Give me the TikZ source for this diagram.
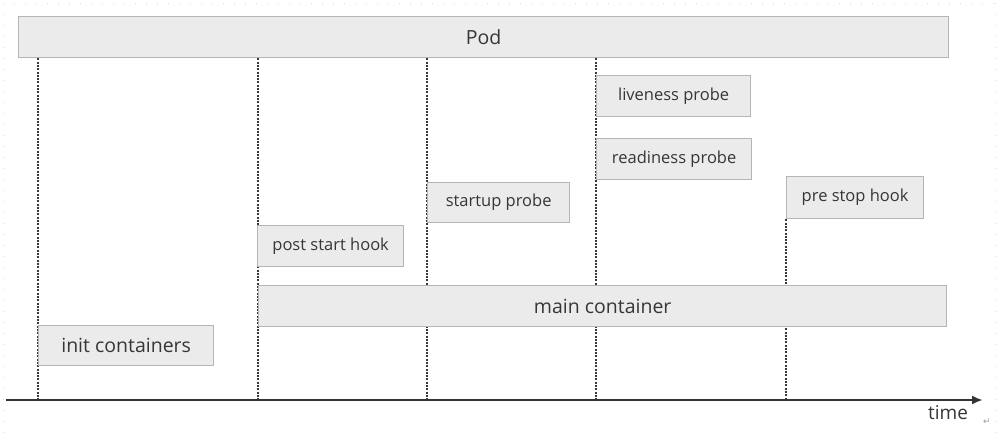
\documentclass[tikz,border=0pt]{standalone}
\usepackage{fontspec}
\setmainfont{Open Sans}
\newfontfamily\symfont{DejaVu Sans}
\usetikzlibrary{backgrounds,arrows.meta}
\definecolor{boxfill}{HTML}{EBEBEB}
\definecolor{boxline}{HTML}{B5B5B5}
\definecolor{txt}{HTML}{363636}
\definecolor{guide}{HTML}{CFDDEE}
\tikzset{
  stagebox/.style={draw=boxline, fill=boxfill, line width=1.3pt, inner sep=0pt,
    anchor=north west, text=txt, font=\fontsize{16.5}{18}\selectfont},
  bigbox/.style={stagebox, font=\fontsize{19.5}{22}\selectfont},
  vline/.style={draw=black!78, line width=1.1pt, dash pattern=on 2pt off 1.3pt},
  axisline/.style={draw=black!80, line width=2.3pt, -{Latex[length=11pt,width=9pt]}},
  pagemark/.style={draw=guide, line width=0.8pt, dash pattern=on 1pt off 10pt}
}
\begin{document}
\begin{tikzpicture}[x=1pt,y=-1pt]
\useasboundingbox (0,0) rectangle (996,434);
% faint page guides
\draw[pagemark] (3,3) -- (3,434);
\draw[pagemark] (3,3) -- (996,3);
\draw[pagemark] (995,3) -- (995,434);
% boxes
\node[bigbox, minimum width=930pt, minimum height=41pt] (pod) at (18,16) {Pod};
\node[bigbox, minimum width=688pt, minimum height=41pt] (main) at (258,285) {main container};
\node[bigbox, minimum width=175pt, minimum height=40pt] (init) at (38,325) {init containers};
\node[stagebox, minimum width=146pt, minimum height=41pt] (post) at (257,225) {post start hook};
\node[stagebox, minimum width=142pt, minimum height=40pt] (startup) at (427,182) {startup probe};
\node[stagebox, minimum width=154pt, minimum height=41pt] (live) at (596,75) {liveness probe};
\node[stagebox, minimum width=155pt, minimum height=41pt] (ready) at (596,138) {readiness probe};
\node[stagebox, minimum width=137pt, minimum height=42pt] (prestop) at (786,176) {pre stop hook};
% axis
\coordinate (axL) at (6,400);
\coordinate (axR) at (983,400);
\draw[axisline] (axL) -- (axR);
\node[text=txt, font=\fontsize{19}{21}\selectfont] (time) at (948,413) {time};
\node[text=black!40, font=\symfont\fontsize{9}{10}\selectfont] (ret) at (987,422) {↵};
% guide lines behind
\begin{pgfonlayer}{background}
\draw[vline] (init.north west |- pod.south) -- (init.north west |- axL);
\draw[vline] (main.north west |- pod.south) -- (main.north west |- axL);
\draw[vline] (startup.north west |- pod.south) -- (startup.north west |- axL);
\draw[vline] (live.north west |- pod.south) -- (live.north west |- axL);
\draw[vline] (prestop.south west) -- (prestop.south west |- axL);
\end{pgfonlayer}
\end{tikzpicture}
\end{document}
